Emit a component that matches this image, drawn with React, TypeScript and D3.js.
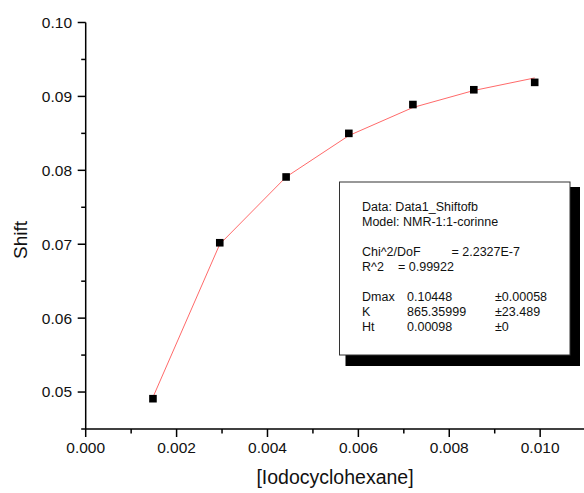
import React from "react";
import * as d3 from "d3";

const concentrations = [0.00148, 0.00295, 0.00441, 0.00579, 0.0072, 0.00854, 0.00988];
const shifts = [0.0491, 0.0702, 0.0791, 0.085, 0.0889, 0.0909, 0.0919];
const fitShifts = [0.0493, 0.07, 0.0791, 0.0847, 0.0885, 0.0908, 0.0925];
const xTicks = [0, 0.002, 0.004, 0.006, 0.008, 0.01];
const xMinorTicks = [0.001, 0.003, 0.005, 0.007, 0.009, 0.011];
const yTicks = [0.05, 0.06, 0.07, 0.08, 0.09, 0.1];
const yMinorTicks = [0.045, 0.055, 0.065, 0.075, 0.085, 0.095];
const legendLines = [
  { row: 0, cols: ["Data: Data1_Shiftofb"] },
  { row: 1, cols: ["Model: NMR-1:1-corinne"] },
  { row: 3, cols: ["Chi^2/DoF", "", "= 2.2327E-7"] },
  { row: 4, cols: ["R^2", "=  0.99922"] },
  { row: 6, cols: ["Dmax", "0.10448", "±0.00058"] },
  { row: 7, cols: ["K", "865.35999", "±23.489"] },
  { row: 8, cols: ["Ht", "0.00098", "±0"] },
];

export default function App() {
  const W = 584, H = 493;
  const x = d3.scaleLinear().domain([0, 0.011]).range([85.7, 585.6]);
  const y = d3.scaleLinear().domain([0.045, 0.1]).range([429, 22.5]);
  const font = "'Liberation Sans', Arial, sans-serif";
  const pts = concentrations.map((c, i) => [c, shifts[i]] as [number, number]);
  const fit = concentrations.map((c, i) => [c, fitShifts[i]] as [number, number]);
  const line = d3
    .line<[number, number]>()
    .x((d) => x(d[0]))
    .y((d) => y(d[1]))
    .curve(d3.curveLinear);
  const x0 = x(0);
  const yb = y(0.045);
  const box = { x: 339.5, y: 182, w: 230.5, h: 173 };
  const colX = [362, 407, 495];
  const colXr = [362, 398];
  return (
    <svg width={W} height={H} style={{ position: "absolute", left: 0, top: 0, background: "#fff" }}>
      <rect x={0} y={0} width={W} height={H} fill="#fff" />
      {/* fit line */}
      <path d={line(fit) || ""} fill="none" stroke="#ff6a6a" strokeWidth={1} />
      {/* points */}
      {pts.map((p, i) => (
        <rect key={i} x={x(p[0]) - 3.8} y={y(p[1]) - 3.8} width={7.6} height={7.6} fill="#000" />
      ))}
      {/* axes */}
      <line x1={x0} y1={y(0.1)} x2={x0} y2={yb} stroke="#000" strokeWidth={1.5} />
      <line x1={x0} y1={yb} x2={W} y2={yb} stroke="#000" strokeWidth={1.5} />
      {yTicks.map((t) => (
        <g key={"yt" + t}>
          <line x1={x0 - 8} x2={x0} y1={y(t)} y2={y(t)} stroke="#000" strokeWidth={1.5} />
          <text x={72} y={y(t)} dy="0.35em" textAnchor="end" fontFamily={font} fontSize={15.5} fill="#111">
            {t.toFixed(2)}
          </text>
        </g>
      ))}
      {yMinorTicks.map((t) => (
        <line key={"ym" + t} x1={x0 - 4.5} x2={x0} y1={y(t)} y2={y(t)} stroke="#000" strokeWidth={1.5} />
      ))}
      {xTicks.map((t) => (
        <g key={"xt" + t}>
          <line x1={x(t)} x2={x(t)} y1={yb} y2={yb + 8} stroke="#000" strokeWidth={1.5} />
          <text x={x(t)} y={453} textAnchor="middle" fontFamily={font} fontSize={15.5} fill="#111">
            {t.toFixed(3)}
          </text>
        </g>
      ))}
      {xMinorTicks.map((t) => (
        <line key={"xm" + t} x1={x(t)} x2={x(t)} y1={yb} y2={yb + 4.5} stroke="#000" strokeWidth={1.5} />
      ))}
      <text x={335} y={484} textAnchor="middle" fontFamily={font} fontSize={19.5} fill="#111">
        [Iodocyclohexane]
      </text>
      <text
        transform={`translate(27,240) rotate(-90)`}
        textAnchor="middle"
        fontFamily={font}
        fontSize={19}
        fill="#111"
      >
        Shift
      </text>
      {/* legend box */}
      <rect x={box.x + 6} y={box.y + 5} width={box.w + 4} height={box.h + 6} fill="#000" />
      <rect x={box.x} y={box.y} width={box.w} height={box.h} fill="#fff" stroke="#333" strokeWidth={1} />
      {legendLines.map((l) =>
        l.cols.map((c, j) => {
          const xs = l.cols.length === 2 && l.row === 4 ? colXr : l.row === 3 ? [362, 407, 451.5] : colX;
          return (
            <text
              key={l.row + "-" + j}
              x={xs[j]}
              y={211 + l.row * 15}
              fontFamily={font}
              fontSize={12.5}
              fill="#111"
            >
              {c}
            </text>
          );
        })
      )}
    </svg>
  );
}
